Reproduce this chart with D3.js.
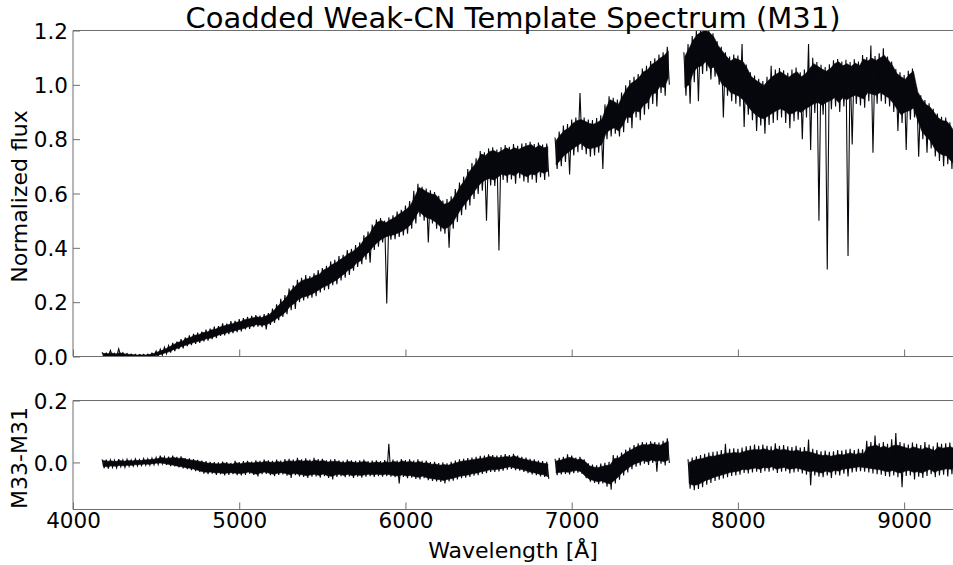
<!DOCTYPE html>
<html>
<head>
<meta charset="utf-8">
<script src="https://cdn.jsdelivr.net/npm/d3@7"></script>
<style>
  body { margin: 0; background: #fff; }
  svg text { font-family: "DejaVu Sans", sans-serif; fill: #000; }
</style>
</head>
<body>
<svg id="chart" width="953" height="565"></svg>
<script>
// Coadded weak-CN template spectrum, 25 Å bins:
// [wavelength, dense-band low, dense-band high, extreme low, extreme high]
const binWidth = 25;
const fluxBins = [
  [4175,0.001,0.012,0.000,0.016],[4200,0.002,0.010,0.000,0.013],[4225,0.000,0.013,0.000,0.022],[4250,0.002,0.009,0.000,0.012],
  [4275,0.001,0.014,0.000,0.028],[4300,0.000,0.010,0.000,0.014],[4325,0.001,0.008,0.000,0.011],[4350,0.000,0.007,0.000,0.009],
  [4375,0.000,0.005,0.000,0.008],[4400,0.001,0.006,0.000,0.007],[4425,0.000,0.005,0.000,0.008],[4450,0.000,0.007,0.000,0.009],
  [4475,0.002,0.010,0.000,0.013],[4500,0.004,0.016,0.002,0.020],[4525,0.008,0.022,0.005,0.027],[4550,0.014,0.028,0.010,0.034],
  [4575,0.018,0.036,0.014,0.040],[4600,0.026,0.044,0.020,0.050],[4625,0.030,0.052,0.027,0.055],[4650,0.038,0.056,0.030,0.064],
  [4675,0.042,0.066,0.038,0.070],[4700,0.048,0.070,0.042,0.078],[4725,0.052,0.078,0.046,0.083],[4750,0.056,0.080,0.050,0.088],
  [4775,0.060,0.088,0.056,0.092],[4800,0.066,0.090,0.058,0.099],[4825,0.068,0.098,0.064,0.103],[4850,0.075,0.100,0.068,0.110],
  [4875,0.080,0.108,0.076,0.112],[4900,0.084,0.112,0.078,0.122],[4925,0.088,0.117,0.082,0.121],[4950,0.092,0.120,0.086,0.130],
  [4975,0.096,0.126,0.090,0.131],[5000,0.100,0.128,0.092,0.138],[5025,0.104,0.135,0.100,0.141],[5050,0.110,0.138,0.102,0.146],
  [5075,0.112,0.142,0.108,0.150],[5100,0.118,0.146,0.110,0.152],[5125,0.115,0.143,0.108,0.151],[5150,0.116,0.148,0.100,0.156],
  [5175,0.122,0.155,0.116,0.160],[5200,0.132,0.168,0.124,0.176],[5225,0.142,0.185,0.134,0.192],[5250,0.152,0.200,0.146,0.212],
  [5275,0.165,0.215,0.156,0.226],[5300,0.185,0.240,0.170,0.250],[5325,0.195,0.255,0.175,0.262],[5350,0.210,0.270,0.200,0.282],
  [5375,0.218,0.280,0.206,0.290],[5400,0.222,0.285,0.214,0.300],[5425,0.228,0.288,0.216,0.296],[5450,0.236,0.298,0.222,0.306],
  [5475,0.246,0.302,0.236,0.318],[5500,0.256,0.318,0.244,0.326],[5525,0.262,0.325,0.248,0.334],[5550,0.272,0.338,0.262,0.350],
  [5575,0.280,0.345,0.266,0.356],[5600,0.292,0.356,0.280,0.370],[5625,0.304,0.366,0.290,0.374],[5650,0.318,0.378,0.300,0.392],
  [5675,0.326,0.386,0.316,0.396],[5700,0.345,0.398,0.330,0.410],[5725,0.352,0.412,0.340,0.420],[5750,0.372,0.436,0.356,0.446],
  [5775,0.385,0.448,0.345,0.460],[5800,0.405,0.476,0.392,0.486],[5825,0.420,0.495,0.404,0.504],[5850,0.432,0.500,0.420,0.510],
  [5875,0.440,0.492,0.195,0.500],[5900,0.445,0.502,0.430,0.512],[5925,0.448,0.510,0.432,0.520],[5950,0.455,0.522,0.440,0.534],
  [5975,0.462,0.532,0.446,0.540],[6000,0.472,0.542,0.452,0.556],[6025,0.485,0.558,0.470,0.572],[6050,0.510,0.588,0.490,0.610],
  [6075,0.535,0.622,0.515,0.636],[6100,0.520,0.615,0.500,0.625],[6125,0.510,0.605,0.420,0.618],[6150,0.505,0.598,0.490,0.612],
  [6175,0.495,0.595,0.470,0.605],[6200,0.480,0.578,0.460,0.592],[6225,0.470,0.560,0.452,0.574],[6250,0.475,0.565,0.400,0.580],
  [6275,0.490,0.578,0.470,0.590],[6300,0.515,0.600,0.495,0.616],[6325,0.540,0.628,0.520,0.640],[6350,0.560,0.648,0.540,0.662],
  [6375,0.580,0.678,0.556,0.690],[6400,0.600,0.698,0.580,0.712],[6425,0.622,0.718,0.598,0.730],[6450,0.640,0.745,0.610,0.756],
  [6475,0.650,0.740,0.500,0.752],[6500,0.655,0.755,0.630,0.766],[6525,0.650,0.758,0.628,0.770],[6550,0.660,0.750,0.390,0.762],
  [6575,0.672,0.758,0.650,0.770],[6600,0.665,0.768,0.640,0.778],[6625,0.672,0.760,0.652,0.772],[6650,0.665,0.768,0.636,0.782],
  [6675,0.678,0.762,0.656,0.776],[6700,0.668,0.770,0.644,0.784],[6725,0.662,0.776,0.640,0.786],[6750,0.672,0.780,0.652,0.790],
  [6775,0.668,0.768,0.640,0.782],[6800,0.682,0.778,0.660,0.788],[6825,0.675,0.768,0.650,0.780],[6850,0.682,0.772,0.662,0.784],
  [6900,0.705,0.795,0.690,0.806],[6925,0.722,0.815,0.700,0.828],[6950,0.742,0.832,0.716,0.850],[6975,0.752,0.840,0.670,0.856],
  [7000,0.765,0.858,0.740,0.872],[7025,0.775,0.868,0.752,0.880],[7050,0.785,0.872,0.760,0.970],[7075,0.770,0.866,0.745,0.880],
  [7100,0.765,0.858,0.735,0.872],[7125,0.768,0.855,0.740,0.870],[7150,0.772,0.862,0.750,0.878],[7175,0.780,0.872,0.690,0.888],
  [7200,0.822,0.915,0.800,0.928],[7225,0.835,0.945,0.810,0.958],[7250,0.842,0.938,0.820,0.952],[7275,0.830,0.928,0.810,0.946],
  [7300,0.850,0.958,0.826,0.972],[7325,0.882,0.985,0.860,0.998],[7350,0.880,1.005,0.840,1.018],[7375,0.905,1.015,0.880,1.030],
  [7400,0.900,1.028,0.870,1.040],[7425,0.925,1.048,0.890,1.060],[7450,0.935,1.055,0.910,1.070],[7475,0.965,1.075,0.930,1.088],
  [7500,0.970,1.085,0.920,1.098],[7525,0.995,1.098,0.970,1.112],[7550,0.990,1.108,0.960,1.120],[7575,1.025,1.125,1.000,1.140],
  [7675,0.990,1.105,0.960,1.120],[7700,1.000,1.135,0.930,1.150],[7725,1.045,1.165,1.010,1.180],[7750,1.065,1.185,0.940,1.200],
  [7775,1.070,1.195,1.040,1.205],[7800,1.085,1.200,1.050,1.210],[7825,1.060,1.192,1.020,1.205],[7850,1.065,1.175,1.030,1.190],
  [7875,1.030,1.145,1.000,1.160],[7900,1.000,1.125,0.880,1.140],[7925,0.990,1.105,0.960,1.120],[7950,0.972,1.088,0.940,1.104],
  [7975,0.965,1.098,0.930,1.112],[8000,0.958,1.092,0.920,1.108],[8025,0.945,1.085,0.845,1.150],[8050,0.925,1.060,0.890,1.075],
  [8075,0.905,1.030,0.870,1.046],[8100,0.890,1.018,0.830,1.034],[8125,0.880,1.008,0.850,1.022],[8150,0.875,0.998,0.820,1.014],
  [8175,0.885,1.015,0.852,1.030],[8200,0.895,1.030,0.860,1.070],[8225,0.905,1.040,0.870,1.056],[8250,0.912,1.048,0.880,1.062],
  [8275,0.905,1.038,0.860,1.054],[8300,0.892,1.028,0.840,1.044],[8325,0.895,1.040,0.866,1.056],[8350,0.905,1.048,0.872,1.064],
  [8375,0.898,1.030,0.800,1.046],[8400,0.912,1.040,0.880,1.056],[8425,0.920,1.060,0.760,1.150],[8450,0.930,1.078,0.896,1.100],
  [8475,0.935,1.068,0.500,1.084],[8500,0.925,1.058,0.890,1.074],[8525,0.935,1.050,0.320,1.066],[8550,0.942,1.060,0.910,1.076],
  [8575,0.952,1.078,0.920,1.090],[8600,0.935,1.085,0.900,1.095],[8625,0.952,1.070,0.920,1.086],[8650,0.945,1.078,0.370,1.092],
  [8675,0.955,1.068,0.780,1.084],[8700,0.962,1.080,0.930,1.094],[8725,0.955,1.070,0.924,1.086],[8750,0.948,1.095,0.916,1.110],
  [8775,0.972,1.088,0.940,1.102],[8800,0.965,1.098,0.750,1.145],[8825,0.962,1.090,0.930,1.106],[8850,0.972,1.100,0.940,1.116],
  [8875,0.962,1.108,0.930,1.135],[8900,0.952,1.090,0.920,1.104],[8925,0.935,1.070,0.900,1.086],[8950,0.912,1.042,0.830,1.058],
  [8975,0.890,1.030,0.860,1.046],[9000,0.900,1.020,0.760,1.036],[9025,0.905,1.038,0.872,1.052],[9050,0.915,1.050,0.880,1.060],
  [9075,0.870,0.975,0.735,0.990],[9100,0.830,0.948,0.800,0.962],[9125,0.810,0.928,0.750,0.944],[9150,0.795,0.918,0.766,0.932],
  [9175,0.768,0.898,0.736,0.912],[9200,0.750,0.878,0.720,0.894],[9225,0.742,0.868,0.700,0.882],[9250,0.738,0.866,0.708,0.880],
  [9275,0.720,0.848,0.690,0.862],[9300,0.708,0.822,0.680,0.840]
];

// M33 minus M31 residual, same bin layout
const diffBins = [
  [4175,-0.012,0.006,-0.018,0.010],[4200,-0.014,0.004,-0.020,0.009],[4225,-0.011,0.005,-0.016,0.008],[4250,-0.012,0.003,-0.017,0.007],
  [4275,-0.010,0.006,-0.014,0.011],[4300,-0.011,0.004,-0.016,0.008],[4325,-0.009,0.006,-0.013,0.010],[4350,-0.009,0.005,-0.012,0.008],
  [4375,-0.007,0.007,-0.011,0.011],[4400,-0.007,0.006,-0.010,0.009],[4425,-0.005,0.008,-0.009,0.012],[4450,-0.006,0.009,-0.009,0.012],
  [4475,-0.004,0.010,-0.008,0.014],[4500,-0.002,0.012,-0.006,0.016],[4525,-0.002,0.016,-0.005,0.022],[4550,-0.004,0.013,-0.008,0.018],
  [4575,-0.007,0.014,-0.012,0.019],[4600,-0.009,0.016,-0.013,0.022],[4625,-0.012,0.013,-0.016,0.018],[4650,-0.014,0.014,-0.019,0.020],
  [4675,-0.017,0.010,-0.022,0.014],[4700,-0.019,0.008,-0.025,0.013],[4725,-0.022,0.006,-0.028,0.011],[4750,-0.026,0.004,-0.031,0.008],
  [4775,-0.030,0.001,-0.036,0.006],[4800,-0.032,-0.002,-0.038,0.004],[4825,-0.031,-0.003,-0.036,0.002],[4850,-0.034,-0.004,-0.040,0.001],
  [4875,-0.033,-0.005,-0.038,0.000],[4900,-0.036,-0.002,-0.042,0.003],[4925,-0.034,-0.004,-0.040,0.001],[4950,-0.033,-0.006,-0.038,-0.001],
  [4975,-0.035,-0.001,-0.041,0.005],[5000,-0.036,-0.004,-0.042,0.001],[5025,-0.034,-0.002,-0.040,0.004],[5050,-0.031,0.000,-0.036,0.005],
  [5075,-0.035,-0.002,-0.040,0.003],[5100,-0.038,0.001,-0.045,0.007],[5125,-0.033,0.000,-0.038,0.005],[5150,-0.031,0.003,-0.037,0.009],
  [5175,-0.035,0.001,-0.041,0.007],[5200,-0.038,0.000,-0.044,0.005],[5225,-0.035,0.003,-0.040,0.009],[5250,-0.033,0.000,-0.039,0.006],
  [5275,-0.036,0.004,-0.043,0.011],[5300,-0.040,0.005,-0.050,0.012],[5325,-0.035,0.003,-0.041,0.009],[5350,-0.038,0.007,-0.045,0.015],
  [5375,-0.040,0.004,-0.047,0.010],[5400,-0.043,0.006,-0.050,0.013],[5425,-0.040,0.003,-0.046,0.009],[5450,-0.038,0.007,-0.045,0.015],
  [5475,-0.042,0.004,-0.049,0.011],[5500,-0.037,0.006,-0.044,0.012],[5525,-0.043,0.001,-0.050,0.007],[5550,-0.045,0.003,-0.055,0.009],
  [5575,-0.040,0.004,-0.047,0.011],[5600,-0.038,0.001,-0.044,0.007],[5625,-0.042,-0.001,-0.048,0.005],[5650,-0.038,0.003,-0.045,0.009],
  [5675,-0.043,0.001,-0.050,0.007],[5700,-0.040,-0.001,-0.046,0.005],[5725,-0.042,0.001,-0.049,0.007],[5750,-0.040,0.003,-0.046,0.009],
  [5775,-0.038,-0.002,-0.044,0.004],[5800,-0.040,0.000,-0.047,0.006],[5825,-0.038,0.001,-0.044,0.007],[5850,-0.040,-0.002,-0.046,0.004],
  [5875,-0.038,0.002,-0.044,0.008],[5900,-0.040,0.000,-0.046,0.060],[5925,-0.042,0.003,-0.048,0.009],[5950,-0.044,0.000,-0.068,0.006],
  [5975,-0.040,0.005,-0.047,0.011],[6000,-0.044,0.001,-0.051,0.008],[6025,-0.042,0.003,-0.049,0.010],[6050,-0.046,-0.001,-0.053,0.006],
  [6075,-0.048,0.003,-0.055,0.010],[6100,-0.044,-0.002,-0.051,0.005],[6125,-0.050,-0.001,-0.057,0.006],[6150,-0.052,-0.006,-0.060,0.001],
  [6175,-0.054,-0.005,-0.061,0.002],[6200,-0.056,-0.009,-0.063,-0.002],[6225,-0.058,-0.007,-0.068,0.000],[6250,-0.054,-0.009,-0.061,-0.003],
  [6275,-0.052,-0.005,-0.059,0.002],[6300,-0.048,-0.001,-0.055,0.006],[6325,-0.044,0.003,-0.051,0.010],[6350,-0.042,0.005,-0.049,0.012],
  [6375,-0.040,0.007,-0.047,0.014],[6400,-0.036,0.009,-0.043,0.016],[6425,-0.034,0.011,-0.041,0.018],[6450,-0.030,0.013,-0.037,0.021],
  [6475,-0.028,0.015,-0.035,0.022],[6500,-0.024,0.019,-0.031,0.026],[6525,-0.024,0.017,-0.031,0.024],[6550,-0.022,0.015,-0.029,0.022],
  [6575,-0.020,0.017,-0.027,0.024],[6600,-0.016,0.019,-0.023,0.027],[6625,-0.014,0.017,-0.021,0.024],[6650,-0.018,0.021,-0.025,0.028],
  [6675,-0.020,0.015,-0.027,0.022],[6700,-0.024,0.011,-0.031,0.018],[6725,-0.028,0.009,-0.035,0.016],[6750,-0.032,0.005,-0.039,0.012],
  [6775,-0.034,0.003,-0.041,0.010],[6800,-0.038,-0.001,-0.045,0.006],[6825,-0.040,-0.003,-0.047,0.004],[6850,-0.046,-0.005,-0.053,0.002],
  [6900,-0.034,0.005,-0.041,0.012],[6925,-0.032,0.007,-0.039,0.015],[6950,-0.030,0.011,-0.037,0.018],[6975,-0.032,0.016,-0.039,0.026],
  [7000,-0.028,0.015,-0.035,0.022],[7025,-0.026,0.009,-0.033,0.016],[7050,-0.030,0.011,-0.037,0.018],[7075,-0.044,0.003,-0.051,0.010],
  [7100,-0.054,-0.011,-0.062,-0.003],[7125,-0.058,-0.015,-0.066,-0.007],[7150,-0.062,-0.017,-0.070,-0.009],[7175,-0.060,-0.013,-0.068,-0.004],
  [7200,-0.066,-0.010,-0.078,-0.001],[7225,-0.070,-0.008,-0.088,0.002],[7250,-0.058,0.012,-0.068,0.024],[7275,-0.046,0.014,-0.056,0.022],
  [7300,-0.032,0.024,-0.042,0.032],[7325,-0.022,0.034,-0.032,0.042],[7350,-0.012,0.040,-0.022,0.048],[7375,-0.004,0.048,-0.014,0.056],
  [7400,0.000,0.054,-0.010,0.062],[7425,0.006,0.058,-0.004,0.066],[7450,0.002,0.056,-0.008,0.064],[7475,0.008,0.060,-0.002,0.068],
  [7500,0.004,0.058,-0.030,0.066],[7525,0.006,0.055,-0.004,0.064],[7550,0.002,0.062,-0.010,0.070],[7575,0.008,0.068,-0.002,0.078],
  [7700,-0.068,0.000,-0.085,0.010],[7725,-0.074,0.006,-0.090,0.016],[7750,-0.072,0.010,-0.086,0.020],[7775,-0.066,0.012,-0.080,0.024],
  [7800,-0.058,0.016,-0.072,0.028],[7825,-0.054,0.020,-0.066,0.032],[7850,-0.048,0.020,-0.060,0.034],[7875,-0.044,0.024,-0.056,0.036],
  [7900,-0.040,0.026,-0.052,0.040],[7925,-0.036,0.030,-0.048,0.060],[7950,-0.032,0.030,-0.044,0.044],[7975,-0.030,0.032,-0.042,0.046],
  [8000,-0.028,0.030,-0.040,0.044],[8025,-0.022,0.034,-0.034,0.048],[8050,-0.024,0.038,-0.036,0.052],[8075,-0.020,0.040,-0.032,0.054],
  [8100,-0.018,0.042,-0.030,0.058],[8125,-0.022,0.040,-0.034,0.054],[8150,-0.016,0.044,-0.028,0.058],[8175,-0.018,0.040,-0.030,0.054],
  [8200,-0.014,0.038,-0.026,0.052],[8225,-0.022,0.044,-0.034,0.062],[8250,-0.018,0.040,-0.030,0.054],[8275,-0.016,0.042,-0.028,0.056],
  [8300,-0.022,0.038,-0.036,0.052],[8325,-0.020,0.036,-0.032,0.050],[8350,-0.018,0.040,-0.030,0.054],[8375,-0.022,0.034,-0.036,0.048],
  [8400,-0.026,0.036,-0.040,0.050],[8425,-0.030,0.034,-0.074,0.074],[8450,-0.028,0.030,-0.042,0.044],[8475,-0.032,0.026,-0.046,0.040],
  [8500,-0.034,0.022,-0.048,0.036],[8525,-0.028,0.024,-0.042,0.038],[8550,-0.032,0.020,-0.050,0.034],[8575,-0.026,0.022,-0.040,0.036],
  [8600,-0.028,0.026,-0.042,0.040],[8625,-0.022,0.024,-0.036,0.038],[8650,-0.020,0.028,-0.045,0.042],[8675,-0.018,0.030,-0.032,0.044],
  [8700,-0.016,0.026,-0.030,0.040],[8725,-0.014,0.030,-0.028,0.044],[8750,-0.016,0.028,-0.030,0.042],[8775,-0.018,0.050,-0.032,0.070],
  [8800,-0.020,0.052,-0.036,0.066],[8825,-0.022,0.056,-0.038,0.087],[8850,-0.024,0.048,-0.040,0.062],[8875,-0.028,0.052,-0.044,0.066],
  [8900,-0.030,0.046,-0.046,0.060],[8925,-0.026,0.054,-0.042,0.075],[8950,-0.032,0.056,-0.048,0.095],[8975,-0.034,0.052,-0.080,0.066],
  [9000,-0.028,0.048,-0.044,0.062],[9025,-0.026,0.044,-0.042,0.058],[9050,-0.032,0.050,-0.055,0.064],[9075,-0.030,0.046,-0.046,0.060],
  [9100,-0.034,0.042,-0.050,0.056],[9125,-0.028,0.048,-0.044,0.066],[9150,-0.022,0.044,-0.038,0.058],[9175,-0.032,0.038,-0.048,0.052],
  [9200,-0.026,0.050,-0.042,0.064],[9225,-0.024,0.046,-0.040,0.060],[9250,-0.020,0.048,-0.045,0.062],[9275,-0.022,0.050,-0.038,0.064],
  [9300,-0.018,0.044,-0.034,0.058]
];

const titleText = "Coadded Weak-CN Template Spectrum (M31)";
const fluxLabel = "Normalized flux";
const diffLabel = "M33-M31";
const xLabel = "Wavelength [Å]";
const waveTicks = [4000, 5000, 6000, 7000, 8000, 9000];
const fluxTicks = [0.0, 0.2, 0.4, 0.6, 0.8, 1.0, 1.2];
const diffTicks = [0.0, 0.2];

// ---- layout ----
const svg = d3.select("#chart");
const left = 73, right = 954;
const top1 = 30.5, bottom1 = 356.5;
const top2 = 400.5, bottom2 = 509.5;
const spineColor = "#6e6e6e";
const inkColor = "#07080d";
const tickFont = 21.5, labelFont = 22, titleFont = 29;

const x = d3.scaleLinear().domain([4000, 9300]).range([left, right]);
const yFlux = d3.scaleLinear().domain([0, 1.2]).range([bottom1, top1]);
const yDiff = d3.scaleLinear().domain([-0.152, 0.2]).range([bottom2, top2]);

// Break the series wherever consecutive bins are more than one bin apart (masked regions)
function withGaps(bins) {
  const out = [];
  bins.forEach((b, i) => {
    if (i > 0 && b[0] - bins[i - 1][0] > binWidth) out.push(null);
    out.push(b);
  });
  return out;
}

// Min/max trace: each bin visits its extreme high, then its extreme low half a bin later
function extremeTrace(bins) {
  const pts = [];
  withGaps(bins).forEach(b => {
    if (b === null) { pts.push(null); return; }
    pts.push([b[0], b[4]]);
    pts.push([b[0] + binWidth / 2, b[3]]);
  });
  return pts;
}

function panel(id, y, y0, y1, bins, ticks, showXLabels) {
  const g = svg.append("g");
  svg.append("clipPath").attr("id", id)
    .append("rect").attr("x", left).attr("y", y1 - 0.5).attr("width", right - left).attr("height", y0 - y1 + 1);

  const data = g.append("g").attr("clip-path", `url(#${id})`);

  // dense part of the noise
  const area = d3.area().defined(d => d !== null)
    .x(d => x(d[0] + binWidth / 4)).y0(d => y(d[1])).y1(d => y(d[2]));
  data.append("path")
    .attr("d", area(withGaps(bins)))
    .attr("fill", inkColor).attr("stroke", inkColor).attr("stroke-width", 0.6);

  // individual excursions
  const line = d3.line().defined(d => d !== null).x(d => x(d[0])).y(d => y(d[1]));
  data.append("path")
    .attr("d", line(extremeTrace(bins)))
    .attr("fill", "none").attr("stroke", inkColor).attr("stroke-width", 1.1);

  // y axis with inward ticks
  const ya = g.append("g").attr("transform", `translate(${left},0)`)
    .call(d3.axisLeft(y).tickValues(ticks).tickFormat(d3.format(".1f")).tickSizeInner(-7).tickSizeOuter(0).tickPadding(5));
  ya.select(".domain").remove();
  ya.selectAll("line").attr("stroke", spineColor);
  ya.selectAll("text").attr("font-size", tickFont).attr("dy", "0.36em");

  // x axis with inward ticks
  const xa = g.append("g").attr("transform", `translate(0,${y0})`)
    .call(d3.axisBottom(x).tickValues(waveTicks).tickFormat(showXLabels ? d3.format("d") : () => "").tickSizeInner(-7).tickSizeOuter(0).tickPadding(3.5));
  xa.select(".domain").remove();
  xa.selectAll("line").attr("stroke", spineColor);
  xa.selectAll("text").attr("font-size", tickFont);

  // spines: left, top, bottom (right side runs off the canvas)
  g.append("path")
    .attr("d", `M${right},${y1}H${left}V${y0}H${right}`)
    .attr("fill", "none").attr("stroke", spineColor).attr("stroke-width", 1);
}

panel("clipFlux", yFlux, bottom1, top1, fluxBins, fluxTicks, false);
panel("clipDiff", yDiff, bottom2, top2, diffBins, diffTicks, true);

// titles and axis labels
svg.append("text").attr("x", (left + 953) / 2).attr("y", 27.5)
  .attr("text-anchor", "middle").attr("font-size", titleFont).text(titleText);
svg.append("text").attr("transform", `translate(27,${(top1 + bottom1) / 2 + 3}) rotate(-90)`)
  .attr("text-anchor", "middle").attr("font-size", labelFont).text(fluxLabel);
svg.append("text").attr("transform", `translate(27,${(top2 + bottom2) / 2 + 3}) rotate(-90)`)
  .attr("text-anchor", "middle").attr("font-size", labelFont).text(diffLabel);
svg.append("text").attr("x", (left + 953) / 2).attr("y", 558)
  .attr("text-anchor", "middle").attr("font-size", labelFont).text(xLabel);
</script>
</body>
</html>
